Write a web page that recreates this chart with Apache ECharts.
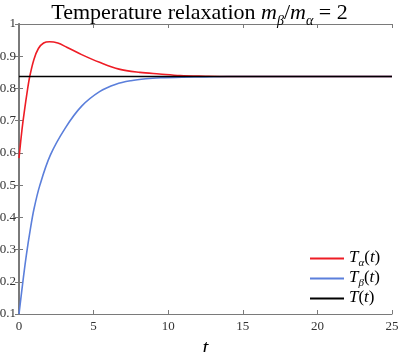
<!DOCTYPE html>
<html>
<head>
<meta charset="utf-8">
<script src="https://cdn.jsdelivr.net/npm/echarts@6/dist/echarts.min.js"></script>
<style>
  html, body { margin: 0; padding: 0; background: #fff; }
  #chart { width: 399px; height: 352px; }
</style>
</head>
<body>
<div id="chart"></div>
<script>
// T_alpha(t)
var tA = [0, 0.2, 0.35, 0.55, 0.72, 1.0, 1.3, 1.65, 2.05, 2.6, 3.2, 4.2, 5.4, 6.7, 8.1, 9.4, 10.8, 12.5, 14, 17, 20, 25];
var tAlpha = [0.584, 0.672, 0.726, 0.79, 0.837, 0.89, 0.924, 0.941, 0.945, 0.941, 0.928, 0.905, 0.881, 0.860, 0.850, 0.845, 0.840, 0.838, 0.837, 0.837, 0.837, 0.837];
// T_beta(t)
var tB = [0, 0.3, 0.5, 0.75, 1.0, 1.4, 2.1, 3.1, 4.2, 5.4, 6.5, 7.5, 8.5, 9.5, 11, 12.5, 14, 17, 20, 25];
var tBeta = [0.1, 0.215, 0.285, 0.36, 0.425, 0.50, 0.593, 0.677, 0.745, 0.79, 0.813, 0.824, 0.830, 0.833, 0.835, 0.836, 0.837, 0.837, 0.837, 0.837];
// T(t) equilibrium
var tEqX = [0, 25];
var tEq = [0.837, 0.837];

function pairs(xs, ys) {
  return xs.map(function (x, i) { return [x, ys[i]]; });
}

var serif = 'Liberation Serif';
var axisGray = '#7a7a7a';

var myChart = echarts.init(document.getElementById('chart'));
var option = {
  animation: false,
  title: {
    text: '{n|Temperature relaxation }{i|m}{s|β}{n|/}{i|m}{s|α}{n| = 2}',
    left: 'center',
    top: -3,
    textStyle: {
      rich: {
        n: { fontFamily: serif, fontSize: 22, fontWeight: 'normal', color: '#000', lineHeight: 22, verticalAlign: 'bottom' },
        i: { fontFamily: serif, fontSize: 22, fontWeight: 'normal', fontStyle: 'italic', color: '#000', lineHeight: 22, verticalAlign: 'bottom' },
        s: { fontFamily: serif, fontSize: 14, fontWeight: 'normal', fontStyle: 'italic', color: '#000', lineHeight: 22, verticalAlign: 'bottom', padding: [0, 0, -4, 0] }
      }
    }
  },
  legend: {
    orient: 'vertical',
    left: 310,
    top: 249,
    padding: 0,
    icon: 'rect',
    itemWidth: 34,
    itemHeight: 2,
    itemGap: 0,
    data: ['Ta', 'Tb', 'T'],
    formatter: function (name) {
      if (name === 'Ta') return '{i|T}{s|α}{n|(}{i|t}{n|)}';
      if (name === 'Tb') return '{i|T}{s|β}{n|(}{i|t}{n|)}';
      return '{i|T}{n|(}{i|t}{n|)}';
    },
    textStyle: {
      rich: {
        n: { fontFamily: serif, fontSize: 17, color: '#000', verticalAlign: 'bottom', lineHeight: 15 },
        i: { fontFamily: serif, fontSize: 17, fontStyle: 'italic', color: '#000', verticalAlign: 'bottom', lineHeight: 15 },
        s: { fontFamily: serif, fontSize: 11, fontStyle: 'italic', color: '#000', verticalAlign: 'bottom', lineHeight: 15, padding: [0, 0, -3, 0] }
      }
    }
  },
  grid: {
    left: 19,
    right: 7,
    top: 24,
    bottom: 38,
    outerBoundsMode: 'none'
  },
  xAxis: [
    {
      type: 'value',
      min: 0,
      max: 25,
      interval: 5,
      name: 't',
      nameLocation: 'middle',
      nameGap: 21,
      nameTextStyle: { fontFamily: serif, fontStyle: 'italic', fontSize: 21, color: '#000' },
      axisLine: { lineStyle: { color: axisGray, width: 1 } },
      axisTick: { inside: true, length: 4, lineStyle: { color: axisGray } },
      axisLabel: { fontFamily: serif, fontSize: 13, color: '#333', margin: 6 },
      splitLine: { show: false }
    },
    {
      type: 'value',
      position: 'top',
      min: 0,
      max: 25,
      interval: 5,
      axisLine: { lineStyle: { color: axisGray, width: 1 } },
      axisTick: { inside: true, length: 4, lineStyle: { color: axisGray } },
      axisLabel: { show: false },
      splitLine: { show: false }
    }
  ],
  yAxis: [
    {
      type: 'value',
      min: 0.1,
      max: 1,
      interval: 0.1,
      axisLine: { show: true, lineStyle: { color: axisGray, width: 1 } },
      axisTick: { show: true, inside: true, length: 4, lineStyle: { color: axisGray } },
      axisLabel: {
        fontFamily: serif, fontSize: 13, color: '#333', margin: 3,
        formatter: function (v) { return String(Math.round(v * 10) / 10); }
      },
      splitLine: { show: false }
    },
    {
      type: 'value',
      position: 'right',
      min: 0.1,
      max: 1,
      interval: 0.1,
      axisLine: { show: true, lineStyle: { color: axisGray, width: 2 } },
      axisTick: { show: true, inside: true, length: 4, lineStyle: { color: axisGray } },
      axisLabel: { show: false },
      splitLine: { show: false }
    }
  ],
  series: [
    {
      name: 'Ta',
      type: 'line',
      data: pairs(tA, tAlpha),
      smooth: 0.35,
      symbol: 'none',
      lineStyle: { color: '#ee1c25', width: 1.6 },
      itemStyle: { color: '#ee1c25' },
      z: 3
    },
    {
      name: 'Tb',
      type: 'line',
      data: pairs(tB, tBeta),
      smooth: 0.35,
      symbol: 'none',
      lineStyle: { color: '#5b7fdb', width: 1.6 },
      itemStyle: { color: '#5b7fdb' },
      z: 3
    },
    {
      name: 'T',
      type: 'line',
      data: pairs(tEqX, tEq),
      symbol: 'none',
      lineStyle: { color: '#000', width: 1.6 },
      itemStyle: { color: '#000' },
      z: 4
    }
  ]
};
myChart.setOption(option);
</script>
</body>
</html>
